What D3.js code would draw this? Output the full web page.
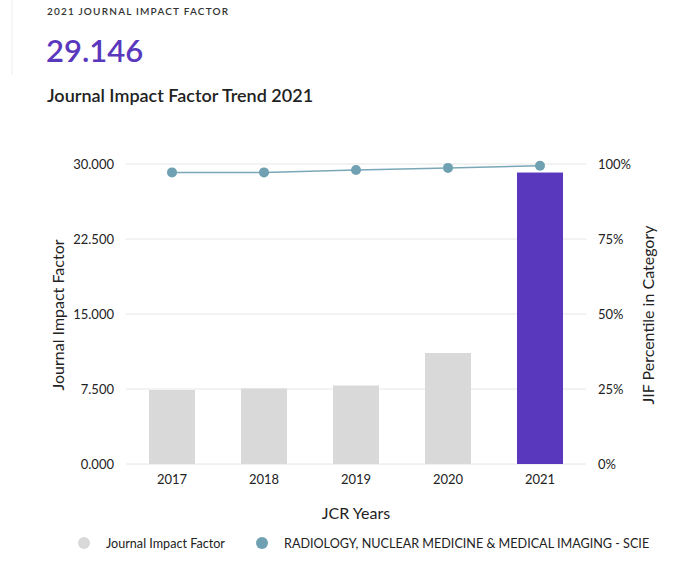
<!DOCTYPE html>
<html><head><meta charset="utf-8">
<script src="https://cdn.jsdelivr.net/npm/d3@7"></script>
<style>body{margin:0;background:#fff;font-family:"Source Sans Pro","Lato","Noto Sans",sans-serif;}</style>
</head><body>
<svg id="c" width="680" height="567"></svg>
<script>
// Datos
var years = ["2017", "2018", "2019", "2020", "2021"];
var jif = [7.4, 7.55, 7.85, 11.1, 29.146];
var percentile = [97.2, 97.2, 98.0, 98.7, 99.4];
var jifTicks = [0, 7.5, 15, 22.5, 30];
var pctTicks = [0, 25, 50, 75, 100];

var svg = d3.select("#c");
var margin = {top: 164, left: 126, right: 586, bottom: 464};

svg.append("line").attr("x1", 12).attr("x2", 12).attr("y1", 0).attr("y2", 75)
	.attr("stroke", "#eee");

svg.append("text").attr("x", 47).attr("y", 15).text("2021 JOURNAL IMPACT FACTOR")
	.attr("font-size", 10).attr("font-weight", 600).attr("letter-spacing", 1.2).attr("fill", "#333");
svg.append("text").attr("x", 46).attr("y", 62).text("29.146")
	.attr("font-size", 31).attr("font-weight", 600).attr("fill", "#5a38bd");
svg.append("text").attr("x", 47).attr("y", 102).text("Journal Impact Factor Trend 2021")
	.attr("font-size", 18).attr("font-weight", 600).attr("fill", "#222");

var x = d3.scaleBand().domain(years).range([margin.left, margin.right]).paddingInner(0.5).paddingOuter(0.25);
var y = d3.scaleLinear().domain([0, 30]).range([margin.bottom, margin.top]);
var y2 = d3.scaleLinear().domain([0, 100]).range([margin.bottom, margin.top]);

// rejilla
svg.selectAll(".grid").data(jifTicks).enter().append("line")
	.attr("x1", margin.left).attr("x2", margin.right)
	.attr("y1", function(d) {return y(d)}).attr("y2", function(d) {return y(d)})
	.attr("stroke", "#e6e6e6");

svg.selectAll(".bar").data(jif).enter().append("rect")
	.attr("x", function(d, i) {return x(years[i])})
	.attr("y", function(d) {return y(d)})
	.attr("width", x.bandwidth())
	.attr("height", function(d) {return y(0) - y(d)})
	.attr("fill", function(d, i) {return i == 4 ? "#5a38bd" : "#d9d9d9"});

var line = d3.line()
	.x(function(d, i) {return x(years[i]) + x.bandwidth() / 2})
	.y(function(d) {return y2(d)});
svg.append("path").datum(percentile).attr("d", line)
	.attr("fill", "none").attr("stroke", "#7aa7b8").attr("stroke-width", 1.5);
svg.selectAll(".dot").data(percentile).enter().append("circle")
	.attr("cx", function(d, i) {return x(years[i]) + x.bandwidth() / 2})
	.attr("cy", function(d) {return y2(d)})
	.attr("r", 5).attr("fill", "#6fa1b3");

var fmt = d3.format(".3f");
var left = svg.append("g").attr("transform", "translate(" + (margin.left - 9) + ",0)")
	.call(d3.axisLeft(y).tickValues(jifTicks).tickFormat(fmt).tickSize(0));
var right = svg.append("g").attr("transform", "translate(" + (margin.right + 9) + ",0)")
	.call(d3.axisRight(y2).tickValues(pctTicks).tickFormat(function(d) {return d + "%"}).tickSize(0));
var bottom = svg.append("g").attr("transform", "translate(0," + (margin.bottom + 8) + ")")
	.call(d3.axisBottom(x).tickSize(0));
[left, right, bottom].forEach(function(g) {
	g.select(".domain").remove();
	g.selectAll("text").attr("font-size", 13).attr("fill", "#222")
		.attr("font-family", "'Source Sans Pro','Lato',sans-serif");
});

svg.append("text").attr("transform", "translate(64,315) rotate(-90)").attr("text-anchor", "middle")
	.text("Journal Impact Factor").attr("font-size", 16).attr("fill", "#222");
svg.append("text").attr("transform", "translate(654,315) rotate(-90)").attr("text-anchor", "middle")
	.text("JIF Percentile in Category").attr("font-size", 16).attr("fill", "#222");
svg.append("text").attr("x", 356).attr("y", 519).attr("text-anchor", "middle")
	.text("JCR Years").attr("font-size", 16).attr("fill", "#222");

// leyenda
var legend = [{t: "Journal Impact Factor", c: "#d9d9d9", x: 84}, {t: "RADIOLOGY, NUCLEAR MEDICINE & MEDICAL IMAGING - SCIE", c: "#6fa1b3", x: 262}];
legend.forEach(function(l) {
	svg.append("circle").attr("cx", l.x).attr("cy", 543).attr("r", 6).attr("fill", l.c);
	svg.append("text").attr("x", l.x + 22).attr("y", 548).text(l.t).attr("font-size", 12.6).attr("fill", "#222");
});
</script>
</body></html>
